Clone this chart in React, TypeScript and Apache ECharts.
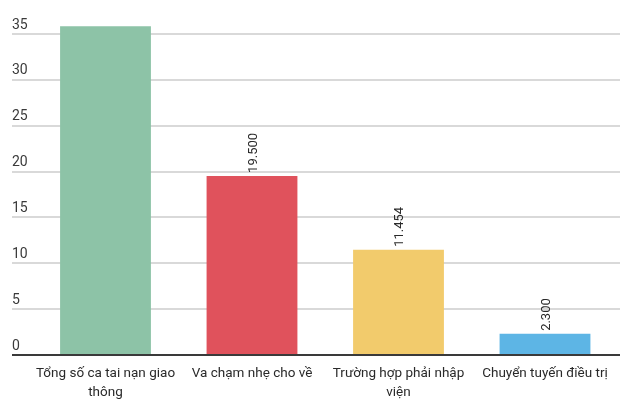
import React, { useEffect, useRef } from "react";
import * as echarts from "echarts";

const categories = [
  "Tổng số ca tai nạn giao\nthông",
  "Va chạm nhẹ cho về",
  "Trường hợp phải nhập\nviện",
  "Chuyển tuyến điều trị",
];
const values = [35.8, 19.5, 11.454, 2.3];
const valueLabels = ["", "19.500", "11.454", "2.300"];
const barColors = ["#8dc3a7", "#e0525c", "#f2cb6c", "#5db5e5"];
const yTicks = { min: 0, max: 35, interval: 5 };

export default function App() {
  const ref = useRef<HTMLDivElement>(null);
  useEffect(() => {
    if (!ref.current) return;
    const chart = echarts.init(ref.current, null, { renderer: "svg" });
    const font = "Roboto, 'Noto Sans', sans-serif";
    chart.setOption({
      animation: false,
      textStyle: { fontFamily: font },
      grid: [
        { left: 12, right: 20, top: 33.5, bottom: 48 },
        { left: 32.25, right: 21.75, top: 33.5, bottom: 48 },
      ],
      xAxis: [
        {
          gridIndex: 0,
          type: "value",
          min: 0,
          max: 1,
          axisLabel: { show: false },
          axisTick: { show: false },
          splitLine: { show: false },
          axisLine: { show: false },
        },
        {
          gridIndex: 1,
          type: "category",
          data: categories,
          axisLine: { show: false },
          axisTick: { show: false },
          axisLabel: {
            color: "#2a2a2a",
            fontSize: 13.5,
            fontFamily: font,
            lineHeight: 19,
            margin: 7,
            interval: 0,
          },
        },
      ],
      yAxis: [
        {
          gridIndex: 0,
          type: "value",
          min: yTicks.min,
          max: yTicks.max,
          interval: yTicks.interval,
          axisLine: { show: false },
          axisTick: { show: false },
          splitLine: { show: true, lineStyle: { color: "#cccccc", width: 1.5 } },
          axisLabel: {
            inside: true,
            margin: 0,
            align: "left",
            verticalAlign: "bottom",
            padding: [0, 0, 3, 0],
            color: "#3a3a3a",
            fontSize: 14,
            fontFamily: font,
          },
        },
        {
          gridIndex: 1,
          type: "value",
          min: yTicks.min,
          max: yTicks.max,
          interval: yTicks.interval,
          show: false,
          splitLine: { show: false },
        },
      ],
      series: [
        {
          type: "bar",
          xAxisIndex: 0,
          yAxisIndex: 0,
          data: [],
          markLine: {
            silent: true,
            symbol: "none",
            label: { show: false },
            lineStyle: { color: "#3a3a3a", width: 2, type: "solid" },
            data: [[{ coord: [0, 0] }, { coord: [1, 0] }]],
          },
        },
        {
          type: "bar",
          xAxisIndex: 1,
          yAxisIndex: 1,
          barWidth: "62%",
          clip: false,
          data: values.map((v, i) => ({
            value: v,
            itemStyle: { color: barColors[i] },
            label: { show: valueLabels[i] !== "" },
          })),
          label: {
            show: true,
            position: "top",
            rotate: 90,
            align: "left",
            verticalAlign: "middle",
            distance: 3,
            color: "#2a2a2a",
            fontSize: 13,
            fontFamily: font,
            formatter: (p: any) => valueLabels[p.dataIndex],
          },
        },
      ],
    });
    return () => chart.dispose();
  }, []);
  return (
    <div
      ref={ref}
      style={{ position: "fixed", left: 0, top: 0, width: 640, height: 403 }}
    />
  );
}
